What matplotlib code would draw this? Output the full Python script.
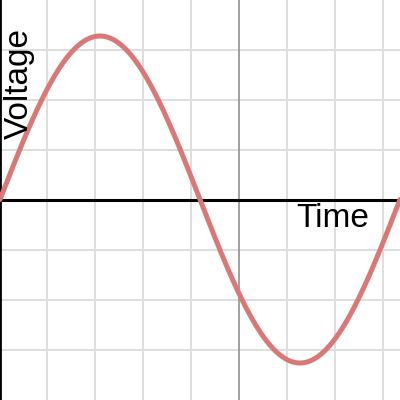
import numpy as np
import matplotlib
matplotlib.use("Agg")
import matplotlib.pyplot as plt

# Wave (graph units: 48 px per x unit, 50 px per y unit)
AMPLITUDE = 3.27
PERIOD = 8.333
START_X = -4.985          # first zero crossing, at the left edge
X_LIMITS = (-4.985, 3.348)
Y_LIMITS = (-4.01, 3.99)
X_GRID = [-4, -3, -2, -1, 1, 2, 3]
Y_GRID = [-3, -2, -1, 1, 2, 3]
X_LABEL = "Time"
Y_LABEL = "Voltage"

plt.rcParams['font.family'] = ['Liberation Sans', 'DejaVu Sans']

fig = plt.figure(figsize=(4, 4), dpi=100)
ax = fig.add_axes([0, 0, 1, 1])
ax.set_xlim(*X_LIMITS)
ax.set_ylim(*Y_LIMITS)

# Grid
for gx in X_GRID:
    ax.axvline(gx, color='#dedede', lw=1.4, zorder=1)
for gy in Y_GRID:
    ax.axhline(gy, color='#dedede', lw=1.4, zorder=1)
ax.axvline(0, color='#999999', lw=1.3, zorder=2)
ax.axhline(0, color='black', lw=2.2, zorder=3)

# Curve
x = np.linspace(X_LIMITS[0], X_LIMITS[1], 600)
y = AMPLITUDE * np.sin(2 * np.pi * (x - START_X) / PERIOD)
ax.plot(x, y, color='#d97876', lw=3.6, solid_capstyle='round', zorder=4)

# Labels
ax.text(296 / 400, 1 - 227 / 400, X_LABEL, transform=ax.transAxes,
        fontsize=24, ha='left', va='baseline', zorder=5)
ax.text(4 / 400, 1 - 139 / 400, Y_LABEL, transform=ax.transAxes,
        fontsize=24, rotation=90, ha='left', va='bottom', zorder=5)

ax.set_xticks([])
ax.set_yticks([])
for side in ['top', 'right', 'bottom']:
    ax.spines[side].set_visible(False)
ax.spines['left'].set_color('black')
ax.spines['left'].set_linewidth(2)

fig.savefig("out.png", dpi=100)
